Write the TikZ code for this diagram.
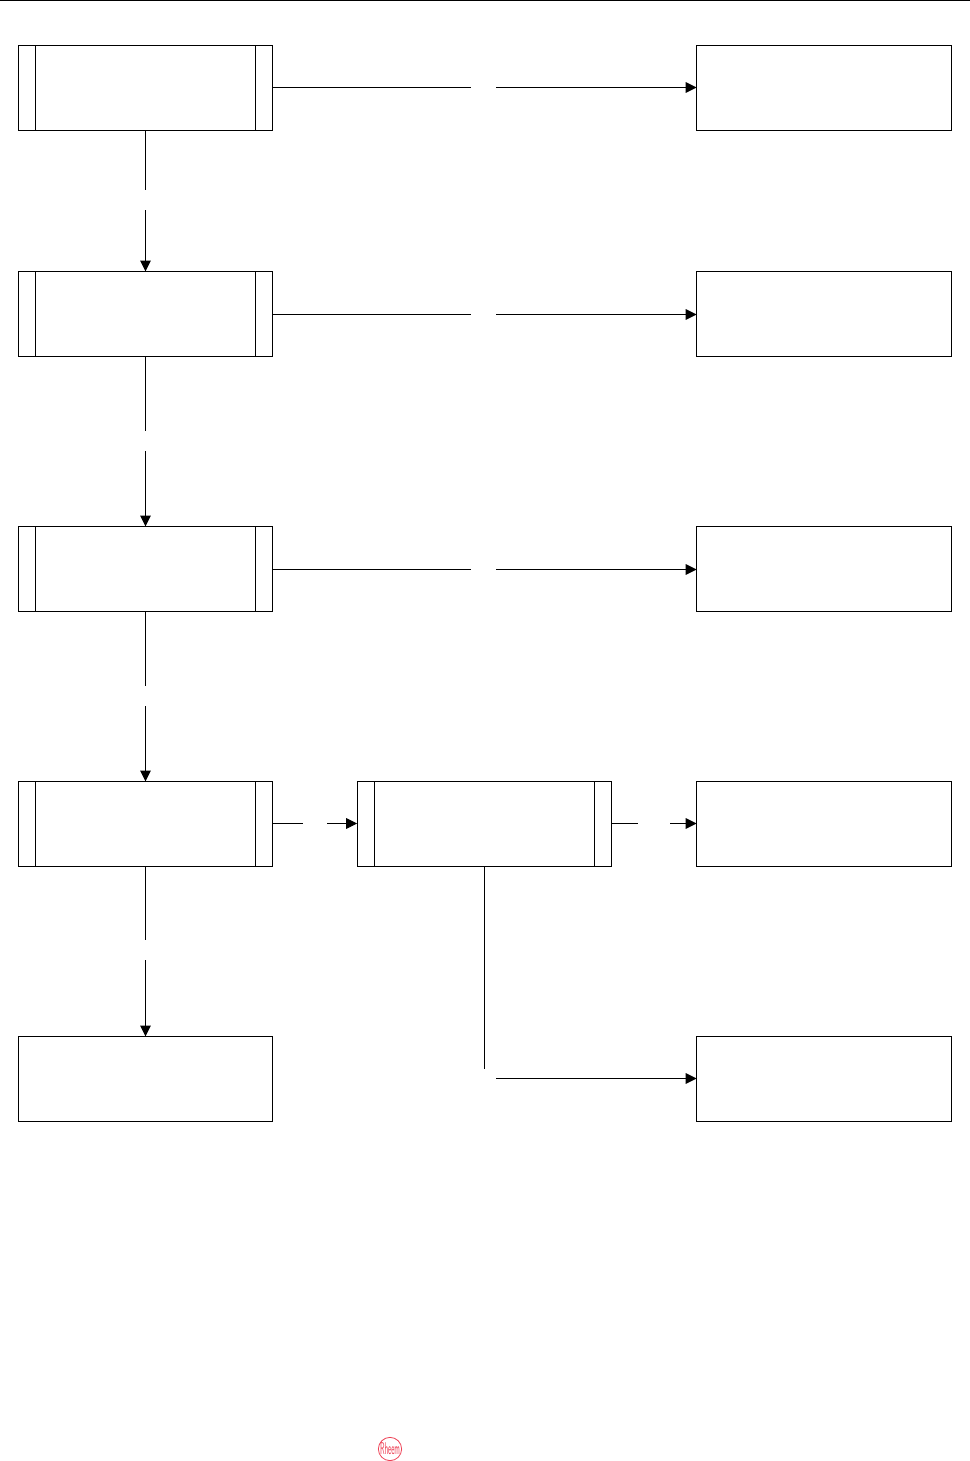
\documentclass[tikz,border=0pt]{standalone}
\usetikzlibrary{arrows.meta}
\definecolor{myred}{rgb}{0.93,0.25,0.33}
\newcommand{\LogoText}{\fontsize{8}{8}\selectfont\textsf{Rheem}}
\tikzset{
  plainbox/.style={draw, line width=0.8pt, inner sep=0, outer sep=0, minimum width=191pt, minimum height=63.75pt},
  subbox/.style={plainbox, path picture={
    \draw[line width=0.8pt] ([xshift=12.75pt]path picture bounding box.north west) -- ([xshift=12.75pt]path picture bounding box.south west);
    \draw[line width=0.8pt] ([xshift=-12.75pt]path picture bounding box.north east) -- ([xshift=-12.75pt]path picture bounding box.south east);
  }},
  logo/.style={circle, draw=myred, text=myred, line width=0.6pt, inner sep=0, minimum size=16.5pt}
}

\begin{document}
\begin{tikzpicture}[x=0.75pt, y=-0.75pt, >={Triangle[length=8.25pt,width=8pt]}, line width=0.8pt]
  \useasboundingbox (0,0) rectangle (970,1461);
  \coordinate (TL) at (0, 0.5);
  \coordinate (TR) at (970, 0.5);
  \node[subbox]   (L0) at (145.5, 88)     {};
  \node[subbox]   (L1) at (145.5, 314)    {};
  \node[subbox]   (L2) at (145.5, 569)    {};
  \node[subbox]   (L3) at (145.5, 824)    {};
  \node[plainbox] (L4) at (145.5, 1079)   {};
  \node[subbox]   (M3) at (484.5, 824)    {};
  \node[plainbox] (R0) at (824, 88)       {};
  \node[plainbox] (R1) at (824, 314)      {};
  \node[plainbox] (R2) at (824, 569)      {};
  \node[plainbox] (R3) at (824, 824)      {};
  \node[plainbox] (R4) at (824, 1079)     {};
  \node[logo]     (Logo) at (390, 1449)   {\scalebox{0.62}[1.6]{\LogoText}};
  % gap ends in the connectors
  \coordinate (V0a) at (145.5, 190);
  \coordinate (V0b) at (145.5, 210);
  \coordinate (V1a) at (145.5, 431);
  \coordinate (V1b) at (145.5, 451);
  \coordinate (V2a) at (145.5, 686);
  \coordinate (V2b) at (145.5, 706);
  \coordinate (V3a) at (145.5, 940);
  \coordinate (V3b) at (145.5, 960);
  \coordinate (H0a) at (471, 87.5);
  \coordinate (H0b) at (496, 87.5);
  \coordinate (H1a) at (471, 314.5);
  \coordinate (H1b) at (496, 314.5);
  \coordinate (H2a) at (471, 569.5);
  \coordinate (H2b) at (496, 569.5);
  \coordinate (H3a) at (303, 823.5);
  \coordinate (H3b) at (327, 823.5);
  \coordinate (H4a) at (638, 823.5);
  \coordinate (H4b) at (670, 823.5);
  \coordinate (M4a) at (484.5, 1068.5);
  \coordinate (M4b) at (496, 1078.5);
  \draw (TL) -- (TR);
  \draw (L0.south) -- (V0a);
  \draw[->] (V0b) -- (L1.north);
  \draw (L1.south) -- (V1a);
  \draw[->] (V1b) -- (L2.north);
  \draw (L2.south) -- (V2a);
  \draw[->] (V2b) -- (L3.north);
  \draw (L3.south) -- (V3a);
  \draw[->] (V3b) -- (L4.north);
  \draw (L0.east |- H0a) -- (H0a);
  \draw[->] (H0b) -- (R0.west |- H0b);
  \draw (L1.east |- H1a) -- (H1a);
  \draw[->] (H1b) -- (R1.west |- H1b);
  \draw (L2.east |- H2a) -- (H2a);
  \draw[->] (H2b) -- (R2.west |- H2b);
  \draw (L3.east |- H3a) -- (H3a);
  \draw[->] (H3b) -- (M3.west |- H3b);
  \draw (M3.east |- H4a) -- (H4a);
  \draw[->] (H4b) -- (R3.west |- H4b);
  \draw (M3.south) -- (M4a);
  \draw[->] (M4b) -- (R4.west |- M4b);
\end{tikzpicture}
\end{document}
